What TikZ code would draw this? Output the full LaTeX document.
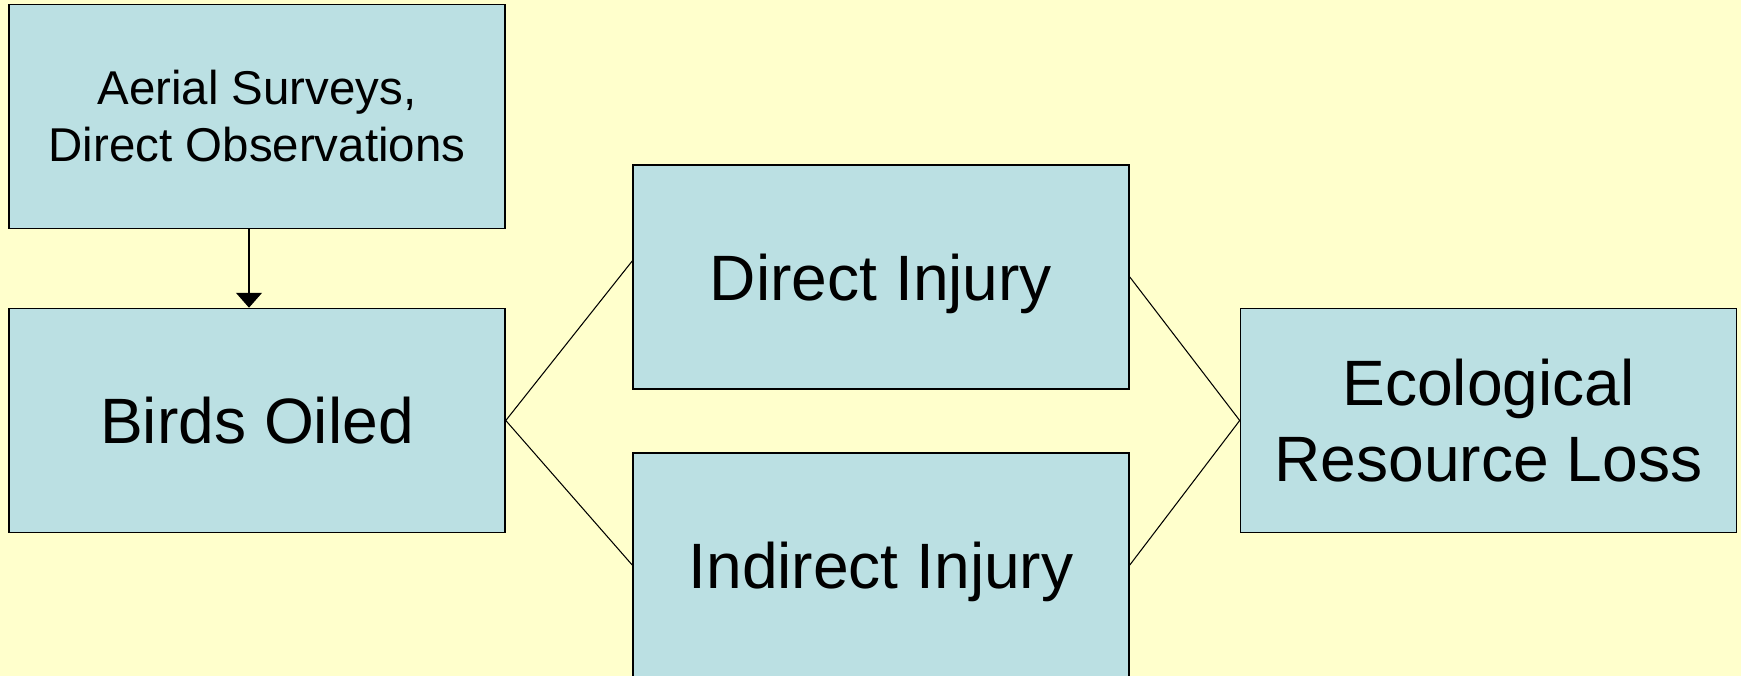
\documentclass[tikz,border=0pt]{standalone}
\usepackage{fontspec}
\setmainfont{Liberation Sans}
\usetikzlibrary{arrows.meta}
\definecolor{slidebg}{HTML}{FFFFCC}
\definecolor{boxblue}{HTML}{BBE0E3}

\begin{document}
\begin{tikzpicture}[
  box/.style={draw=black, line width=0.9pt, fill=boxblue, minimum width=9.92cm, minimum height=4.48cm, inner sep=0pt, align=center},
  bigtext/.style={font=\fontsize{36.5}{43.6}\selectfont},
  link/.style={line width=0.6pt}
]
\useasboundingbox (0,0) rectangle (34.82,-13.52);
\fill[slidebg] (0,0) rectangle (34.82,-13.52);
\node[box, font=\fontsize{27}{32.4}\selectfont] (surveys) at (5.14,-2.33) {Aerial Surveys,\\Direct Observations};
\node[box, bigtext, text depth=0pt] (birds) at (5.14,-8.41) {Birds Oiled};
\node[box, bigtext, text depth=0pt] (direct) at (17.62,-5.54) {Direct Injury};
\node[box, bigtext, text depth=0pt] (indirect) at (17.62,-11.30) {Indirect Injury};
\node[box, bigtext] (ecoloss) at (29.77,-8.41) {Ecological\\Resource Loss};
\draw[link, -{Triangle[width=14.8pt,length=8.5pt]}] ([xshift=-0.16cm]surveys.south) -- ([xshift=-0.16cm]birds.north);
\draw[link] ([yshift=0.32cm]direct.west) -- (birds.east) -- (indirect.west);
\draw[link] (direct.east) -- (ecoloss.west) -- (indirect.east);
\end{tikzpicture}
\end{document}
